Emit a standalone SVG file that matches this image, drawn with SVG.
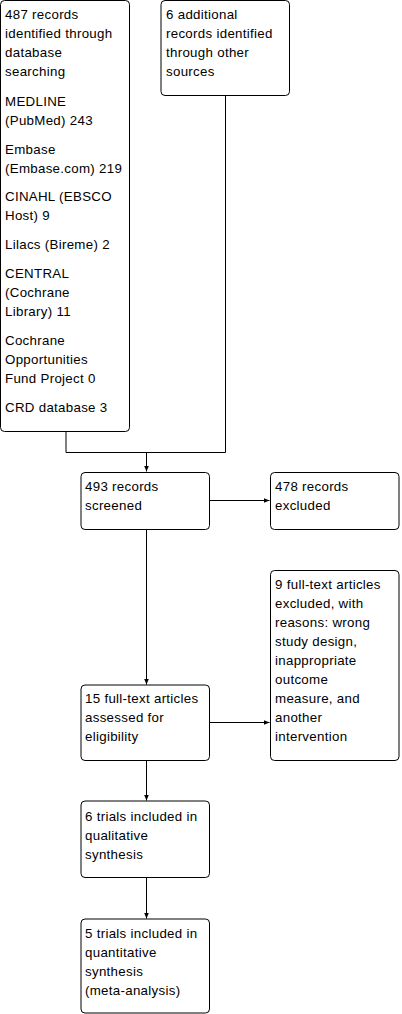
<svg xmlns="http://www.w3.org/2000/svg" width="402" height="1014" viewBox="0 0 402 1014">
<style>
.box{fill:#fff;stroke:#000;stroke-width:1}
.t{font-family:"Liberation Sans",Arial,sans-serif;font-size:13.3px;letter-spacing:0.3px;fill:#000}
.c{fill:none;stroke:#000;stroke-width:1}
</style>
<defs>
<marker id="ah" markerWidth="6" markerHeight="6" refX="6" refY="3" orient="auto" markerUnits="userSpaceOnUse">
<path d="M0,0.5 L6,3 L0,5.5 z" fill="#000"/>
</marker>
</defs>
<rect width="402" height="1014" fill="#fff"/>
<g id="connectors">
<path class="c" d="M66,431.5 V452.5 H225.5 V95.5"/>
<path class="c" d="M146.5,452.5 V471.5" marker-end="url(#ah)"/>
<path class="c" d="M209.5,500.5 H269.5" marker-end="url(#ah)"/>
<path class="c" d="M146.5,529.5 V684.5" marker-end="url(#ah)"/>
<path class="c" d="M209.5,722.5 H269.5" marker-end="url(#ah)"/>
<path class="c" d="M146.5,760.5 V800.5" marker-end="url(#ah)"/>
<path class="c" d="M146.5,877.5 V918.5" marker-end="url(#ah)"/>
</g>
<g id="n1">
<rect class="box" x="0.5" y="0.5" width="129" height="431" rx="4"/>
<text class="t" x="5"><tspan x="5" y="19">487 records</tspan><tspan x="5" y="38">identified through</tspan><tspan x="5" y="57">database</tspan><tspan x="5" y="76">searching</tspan><tspan x="5" y="106">MEDLINE</tspan><tspan x="5" y="125">(PubMed) 243</tspan><tspan x="5" y="154">Embase</tspan><tspan x="5" y="173">(Embase.com) 219</tspan><tspan x="5" y="201">CINAHL (EBSCO</tspan><tspan x="5" y="220">Host) 9</tspan><tspan x="5" y="249">Lilacs (Bireme) 2</tspan><tspan x="5" y="278">CENTRAL</tspan><tspan x="5" y="297">(Cochrane</tspan><tspan x="5" y="316">Library) 11</tspan><tspan x="5" y="345">Cochrane</tspan><tspan x="5" y="364">Opportunities</tspan><tspan x="5" y="383">Fund Project 0</tspan><tspan x="5" y="412">CRD database 3</tspan></text>
</g>
<g id="n2">
<rect class="box" x="161" y="0.5" width="128.5" height="95" rx="4"/>
<text class="t"><tspan x="166" y="19">6 additional</tspan><tspan x="166" y="38">records identified</tspan><tspan x="166" y="57">through other</tspan><tspan x="166" y="76">sources</tspan></text>
</g>
<g id="n3">
<rect class="box" x="81" y="472.5" width="128.5" height="57" rx="4"/>
<text class="t"><tspan x="85" y="491">493 records</tspan><tspan x="85" y="510">screened</tspan></text>
</g>
<g id="n4">
<rect class="box" x="270.5" y="472.5" width="128.5" height="57" rx="4"/>
<text class="t"><tspan x="275" y="491">478 records</tspan><tspan x="275" y="510">excluded</tspan></text>
</g>
<g id="n5">
<rect class="box" x="81" y="685" width="128.5" height="75.5" rx="4"/>
<text class="t"><tspan x="85" y="703">15 full-text articles</tspan><tspan x="85" y="722">assessed for</tspan><tspan x="85" y="741">eligibility</tspan></text>
</g>
<g id="n6">
<rect class="box" x="270.5" y="570.5" width="128.5" height="190" rx="4"/>
<text class="t"><tspan x="275" y="589">9 full-text articles</tspan><tspan x="275" y="608">excluded, with</tspan><tspan x="275" y="627">reasons: wrong</tspan><tspan x="275" y="646">study design,</tspan><tspan x="275" y="665">inappropriate</tspan><tspan x="275" y="684">outcome</tspan><tspan x="275" y="703">measure, and</tspan><tspan x="275" y="722">another</tspan><tspan x="275" y="741">intervention</tspan></text>
</g>
<g id="n7">
<rect class="box" x="81" y="801" width="128.5" height="76.5" rx="4"/>
<text class="t"><tspan x="85" y="821">6 trials included in</tspan><tspan x="85" y="840">qualitative</tspan><tspan x="85" y="859">synthesis</tspan></text>
</g>
<g id="n8">
<rect class="box" x="81" y="919" width="128.5" height="94" rx="4"/>
<text class="t"><tspan x="85" y="938">5 trials included in</tspan><tspan x="85" y="957">quantitative</tspan><tspan x="85" y="976">synthesis</tspan><tspan x="85" y="995">(meta-analysis)</tspan></text>
</g>
</svg>
